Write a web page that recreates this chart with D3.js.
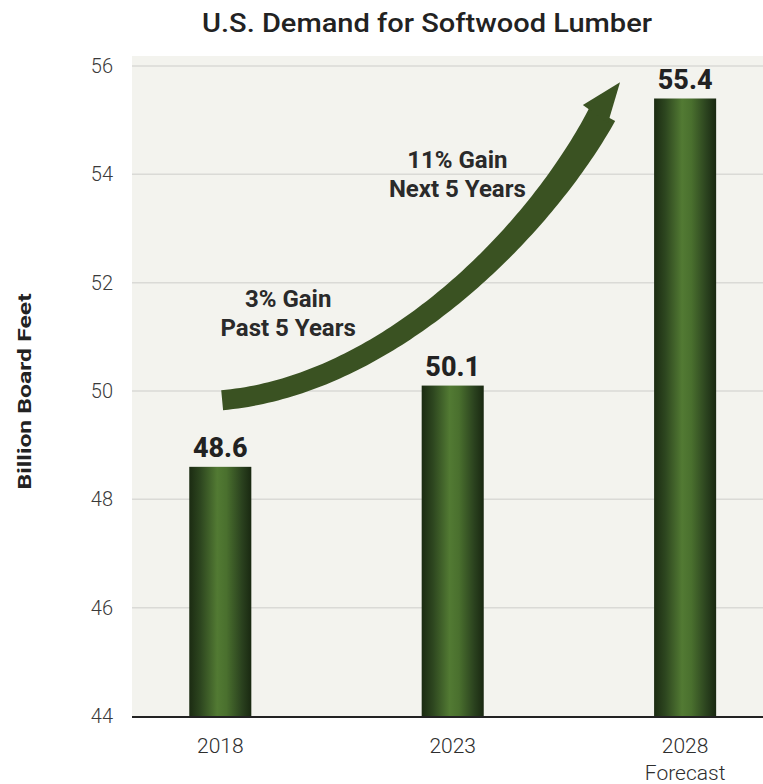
<!DOCTYPE html>
<html><head><meta charset="utf-8">
<script src="https://cdn.jsdelivr.net/npm/d3@7"></script>
<style>body{margin:0;background:#fff} svg{display:block}</style>
</head><body><svg id="c" width="763" height="784"></svg>
<script>
// ---- data ----
const title = "U.S. Demand for Softwood Lumber";
const yLabel = "Billion Board Feet";
const categories = ["2018", "2023", "2028"];
const categorySub = ["", "", "Forecast"];
const values = [48.6, 50.1, 55.4];
const yTicks = [44, 46, 48, 50, 52, 54, 56];
// annotation text anchors (year, value) of first-line baseline
const noteLines = [["3% Gain", "Past 5 Years"], ["11% Gain", "Next 5 Years"]];
const noteYears = [2019.46, 2023.10];
const noteValues = [51.55, 54.12];
// arrow: cubic bezier (start, control 1, control 2, end) in (year, value) space
const arrowYears = [2018.04, 2021.65, 2024.88, 2026.22];
const arrowValues = [49.83, 50.11, 52.97, 55.11];
const arrowHeadYears = [2025.80, 2026.60, 2026.34];
const arrowHeadValues = [55.28, 55.70, 54.95];

// ---- layout ----
const plot = {left: 132, right: 763, top: 56, bottom: 717};
const svg = d3.select("#c");
const font = "Roboto, 'Noto Sans', sans-serif";

const x = d3.scaleBand().domain(categories).range([plot.left, plot.right])
  .paddingInner(0.733).paddingOuter(0.224).align(0.55);
const y = d3.scaleLinear().domain([44, 56]).range([716, 66]);
const xc = c => x(c) + x.bandwidth() / 2;
const xYear = d3.scaleLinear().domain([2018, 2028]).range([xc("2018"), xc("2028")]);

// gradient
const defs = svg.append("defs");
const g = defs.append("linearGradient").attr("id", "barGrad").attr("x1", "0").attr("x2", "1").attr("y1", "0").attr("y2", "0");
[[0, "#1b2b12"], [0.18, "#2d461f"], [0.45, "#527a33"], [0.6, "#4a702e"], [0.85, "#2a411e"], [1, "#192811"]]
  .forEach(([o, c]) => g.append("stop").attr("offset", o).attr("stop-color", c));

// background
svg.append("rect").attr("x", plot.left).attr("y", plot.top)
  .attr("width", plot.right - plot.left).attr("height", plot.bottom - plot.top)
  .attr("fill", "#f3f3ee");

// gridlines
svg.append("g").selectAll("line").data(yTicks.slice(1)).join("line")
  .attr("x1", plot.left).attr("x2", plot.right)
  .attr("y1", d => y(d)).attr("y2", d => y(d))
  .attr("stroke", "#dadad6").attr("stroke-width", 1.5);

// y tick labels
svg.append("g").selectAll("text").data(yTicks).join("text")
  .attr("x", 113).attr("y", d => y(d)).attr("dy", "0.35em")
  .attr("text-anchor", "end").attr("font-family", font).attr("font-weight", 300)
  .attr("font-size", 20).attr("fill", "#3a3a3a").text(d => d);

// y label
svg.append("text").attr("transform", `translate(31,${(plot.top + plot.bottom) / 2 + 5}) rotate(-90)`)
  .attr("text-anchor", "middle").attr("font-family", font).attr("font-weight", 700)
  .attr("font-size", 18).attr("fill", "#222")
  .attr("textLength", 196).attr("lengthAdjust", "spacingAndGlyphs").text(yLabel);

// title
svg.append("text").attr("x", 427).attr("y", 32).attr("text-anchor", "middle")
  .attr("font-family", font).attr("font-weight", 500).attr("font-size", 26)
  .attr("textLength", 450).attr("lengthAdjust", "spacingAndGlyphs")
  .attr("fill", "#222").text(title);

// bars
svg.append("g").selectAll("rect").data(categories).join("rect")
  .attr("x", d => x(d)).attr("width", x.bandwidth())
  .attr("y", (d, i) => y(values[i])).attr("height", (d, i) => y(44) - y(values[i]))
  .attr("fill", "url(#barGrad)");

// value labels
svg.append("g").selectAll("text").data(categories).join("text")
  .attr("x", d => xc(d)).attr("y", (d, i) => y(values[i]) - 10)
  .attr("text-anchor", "middle").attr("font-family", font).attr("font-weight", 800)
  .attr("font-size", 27).attr("fill", "#222").text((d, i) => values[i].toFixed(1));

// x axis line
svg.append("line").attr("x1", plot.left).attr("x2", plot.right)
  .attr("y1", plot.bottom).attr("y2", plot.bottom)
  .attr("stroke", "#222").attr("stroke-width", 2);

// x labels
const xl = svg.append("g").selectAll("text").data(categories).join("text")
  .attr("x", d => xc(d)).attr("y", 753).attr("text-anchor", "middle")
  .attr("font-family", font).attr("font-weight", 300).attr("font-size", 21).attr("fill", "#2e2e2e");
xl.append("tspan").attr("x", d => xc(d)).text(d => d);
xl.append("tspan").attr("x", d => xc(d)).attr("dy", 27).text((d, i) => categorySub[i]);

// arrow (tapered shaft + head)
const cp = arrowYears.map((yr, i) => [xYear(yr), y(arrowValues[i])]);
const bez = d3.path();
bez.moveTo(cp[0][0], cp[0][1]);
bez.bezierCurveTo(cp[1][0], cp[1][1], cp[2][0], cp[2][1], cp[3][0], cp[3][1]);
const tmp = svg.append("path").attr("d", bez.toString()).attr("fill", "none").attr("stroke", "none");
const node = tmp.node(), L = node.getTotalLength();
const N = 100, left = [], right = [];
for (let i = 0; i <= N; i++) {
  const t = i / N, s = t * L;
  const p = node.getPointAtLength(s);
  const a = node.getPointAtLength(Math.max(0, s - 2)), b = node.getPointAtLength(Math.min(L, s + 2));
  let dx = b.x - a.x, dy = b.y - a.y; const len = Math.hypot(dx, dy) || 1; dx /= len; dy /= len;
  const w = (20 + 9 * t * t) / 2;
  left.push([p.x - dy * w, p.y + dx * w]);
  right.push([p.x + dy * w, p.y - dx * w]);
}
tmp.remove();
const arrowColor = "#3a5222";
svg.append("path").attr("d", "M" + left.concat(right.reverse()).map(p => p.join(",")).join("L") + "Z")
  .attr("fill", arrowColor);
const head = arrowHeadYears.map((yr, i) => [xYear(yr), y(arrowHeadValues[i])]);
svg.append("path").attr("d", "M" + head.map(p => p.join(",")).join("L") + "Z").attr("fill", arrowColor);

// annotations
noteLines.forEach((lines, k) => {
  const t = svg.append("text").attr("text-anchor", "middle").attr("font-family", font)
    .attr("font-weight", 700).attr("font-size", 24).attr("fill", "#2a2a2a");
  lines.forEach((ln, j) => t.append("tspan").attr("x", xYear(noteYears[k]))
    .attr("y", y(noteValues[k]) + j * 29).text(ln));
});
</script></body></html>
